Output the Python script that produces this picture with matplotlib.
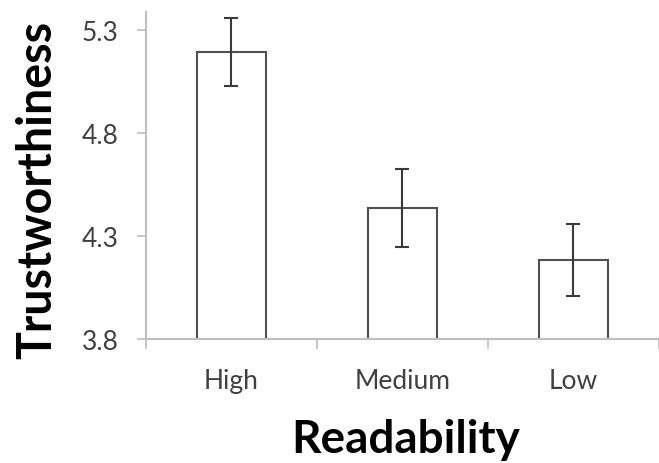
import matplotlib
matplotlib.use('Agg')
import matplotlib.pyplot as plt

# data
categories = ['High', 'Medium', 'Low']
means = [5.19, 4.434, 4.182]
errors = [0.165, 0.19, 0.176]
yticks = [3.8, 4.3, 4.8, 5.3]

plt.rcParams['font.family'] = ['Lato', 'DejaVu Sans']

fig = plt.figure(figsize=(6.59, 4.64), dpi=100)
ax = fig.add_axes([0.2215, 0.2683, 0.7785, 0.7037])

pos = list(range(len(categories)))
ax.bar(pos, means, width=0.404, bottom=0, color='white',
       edgecolor='#505050', linewidth=1.5, zorder=2)
ax.errorbar(pos, means, yerr=errors, fmt='none', ecolor='#3a3a3a',
            elinewidth=1.5, capsize=4.7, capthick=1.5, zorder=3)

ax.set_ylim(3.8, 5.385)
ax.set_xlim(-0.5, 2.46)
ax.set_yticks(yticks)
ax.set_yticklabels([f'{v:.1f}' for v in yticks])

# category boundary ticks, labels at bar centres
ax.set_xticks([-0.5, 0.5, 1.5, 2.5])
ax.set_xticklabels([])
ax.set_xticks(pos, minor=True)
ax.set_xticklabels(categories, minor=True)
ax.tick_params(axis='x', which='minor', length=0, pad=21,
               labelsize=19, labelcolor='#404040')
ax.tick_params(axis='x', which='major', length=7, width=1.2, color='#bfbfbf')
ax.tick_params(axis='y', length=6.5, width=1.2, color='#bfbfbf', pad=13,
               labelsize=19, labelcolor='#404040')

for side in ['top', 'right']:
    ax.spines[side].set_visible(False)
for side in ['left', 'bottom']:
    ax.spines[side].set_color('#bfbfbf')
    ax.spines[side].set_linewidth(1.5)

fig.text(37 / 659, 1 - 190 / 464, 'Trustworthiness', rotation=90,
         ha='center', va='center', fontsize=33.5, fontweight='bold')
fig.text(406 / 659, 1 - 440 / 464, 'Readability',
         ha='center', va='center', fontsize=33, fontweight='bold')

fig.savefig('out.png', dpi=100, facecolor='white')
